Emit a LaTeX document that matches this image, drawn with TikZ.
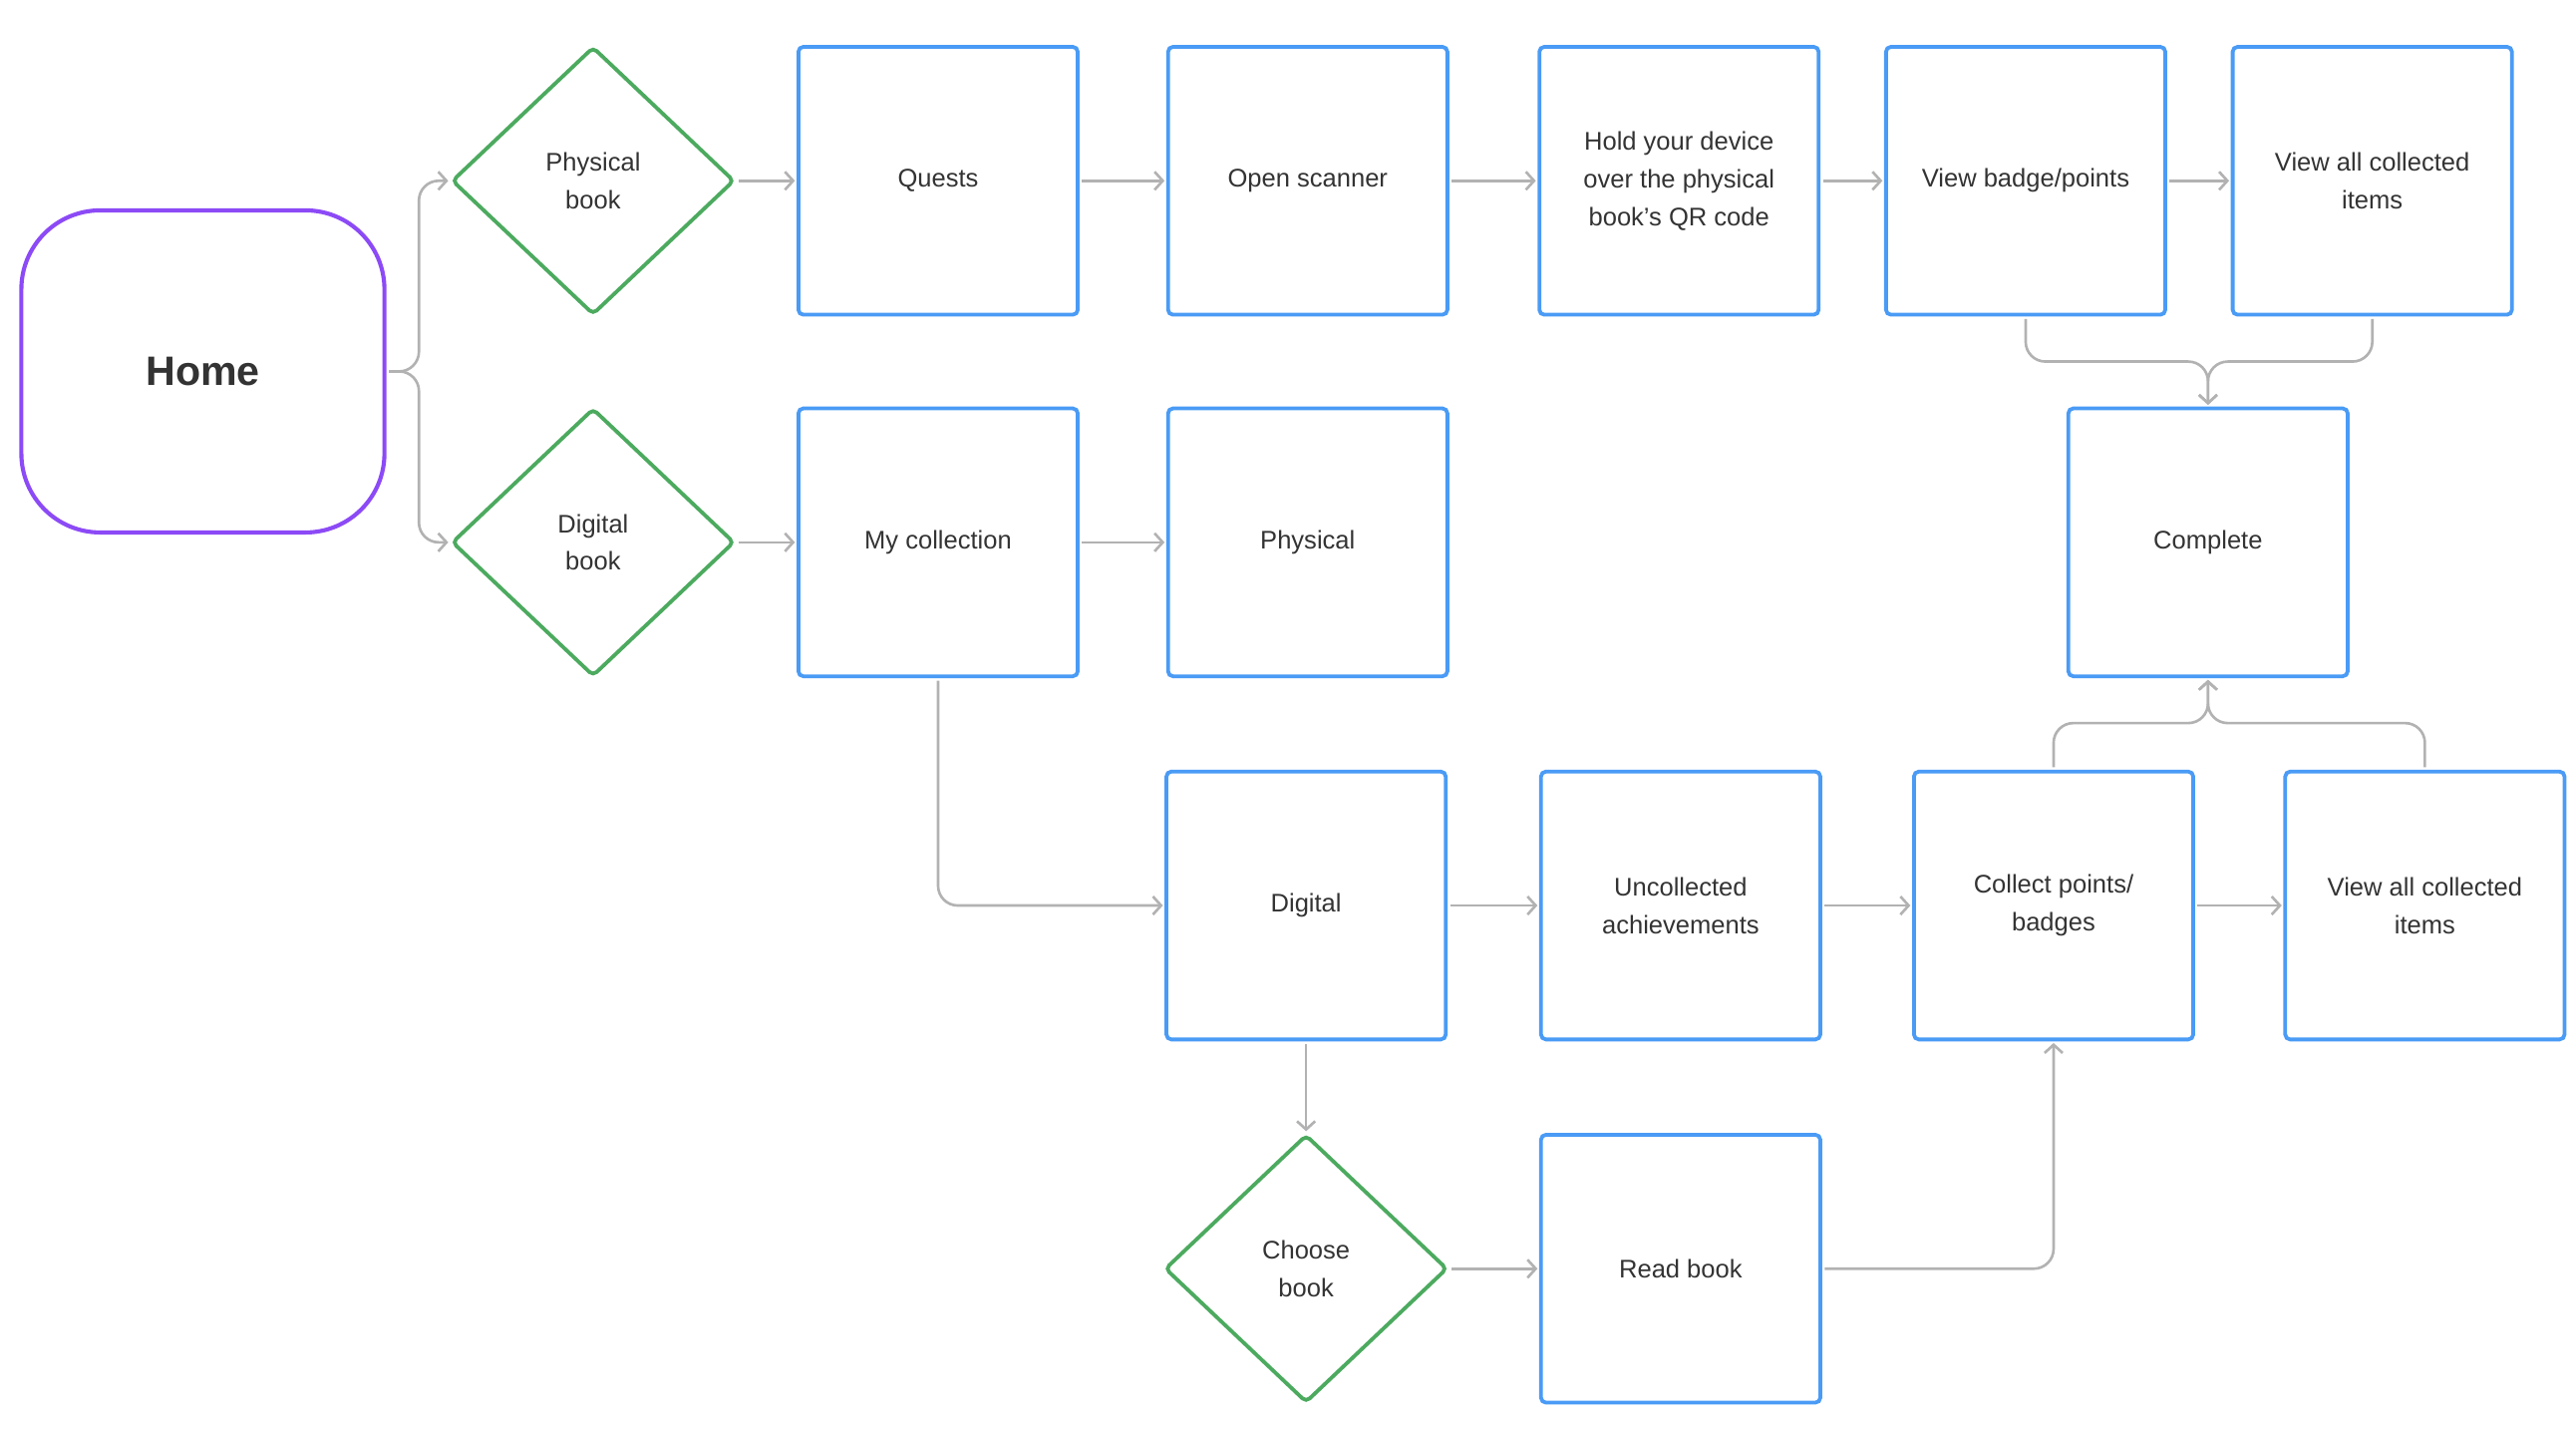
\documentclass[tikz,border=0pt]{standalone}
\usepackage{fontspec}
\setmainfont{Liberation Sans}
\usetikzlibrary{arrows.meta,shapes.geometric}
\definecolor{boxblue}{RGB}{74,155,245}
\definecolor{dgreen}{RGB}{76,170,95}
\definecolor{hpurple}{RGB}{140,74,246}
\definecolor{conngray}{RGB}{178,178,178}
\definecolor{txt}{RGB}{51,51,51}
\tikzset{
  stepbox/.style={draw=boxblue, line width=2.3pt, rounded corners=3pt, rectangle,
    minimum width=170pt, minimum height=163pt, inner sep=0pt, align=center,
    text=txt, font=\fontsize{15.5}{23}\selectfont},
  choice/.style={draw=dgreen, line width=2.3pt, rounded corners=3pt, diamond,
    minimum width=172pt, minimum height=163pt, inner sep=0pt, align=center,
    text=txt, font=\fontsize{15.5}{23}\selectfont},
  homebox/.style={draw=hpurple, line width=2.5pt, rounded corners=48pt, rectangle,
    minimum width=221pt, minimum height=196pt, align=center,
    text=txt, font=\fontsize{25}{30}\selectfont\bfseries},
  conn/.style={draw=conngray, line width=1.6pt, rounded corners=12pt,
    -{Straight Barb[length=5pt,width=11pt,line width=1.6pt]},
    shorten <=1.5pt, shorten >=1pt}
}
\begin{document}
\begin{tikzpicture}[x=1pt,y=-1pt]
\useasboundingbox (0,0) rectangle (1568,871);
% nodes
\node[homebox] (home) at (123.5,226) {Home};
\node[choice] (pb) at (361,110) {Physical\\book};
\node[choice] (db) at (361,330) {Digital\\book};
\node[choice] (cb) at (795,772) {Choose\\book};

\node[stepbox] (q)   at (571,110)  {Quests};
\node[stepbox] (os)  at (796,110)  {Open scanner};
\node[stepbox] (hd)  at (1022,110) {Hold your device\\over the physical\\book’s QR code};
\node[stepbox] (vbp) at (1233,110) {View badge/points};
\node[stepbox] (va1) at (1444,110) {View all collected\\items};

\node[stepbox] (mc)  at (571,330)  {My collection};
\node[stepbox] (ph)  at (796,330)  {Physical};
\node[stepbox] (cmp) at (1344,330) {Complete};

\node[stepbox] (dg)  at (795,551) {Digital};
\node[stepbox] (ua)  at (1023,551) {Uncollected\\achievements};
\node[stepbox] (cp)  at (1250,551) {Collect points/\\badges};
\node[stepbox] (va2) at (1476,551) {View all collected\\items};

\node[stepbox] (rb)  at (1023,772) {Read book};

\coordinate (j1) at (1344,220);
\coordinate (j2) at (1344,440);

% connectors
\draw[conn] (home.east) -- (255,226) |- (pb.west);
\draw[conn] (home.east) -- (255,226) |- (db.west);
\draw[conn] (pb.east) -- (q.west);
\draw[conn] (q.east) -- (os.west);
\draw[conn] (os.east) -- (hd.west);
\draw[conn] (hd.east) -- (vbp.west);
\draw[conn] (vbp.east) -- (va1.west);
\draw[conn] (db.east) -- (mc.west);
\draw[conn] (mc.east) -- (ph.west);
\draw[conn] (mc.south) |- (dg.west);
\draw[conn] (dg.east) -- (ua.west);
\draw[conn] (ua.east) -- (cp.west);
\draw[conn] (cp.east) -- (va2.west);
\draw[conn] (dg.south) -- (cb.north);
\draw[conn] (cb.east) -- (rb.west);
\draw[conn] (rb.east) -| (cp.south);
\draw[conn] (vbp.south) |- (j1) -- (cmp.north);
\draw[conn] (va1.south) |- (j1) -- (cmp.north);
\draw[conn] (cp.north) |- (j2) -- (cmp.south);
\draw[conn] (va2.north) |- (j2) -- (cmp.south);
\end{tikzpicture}
\end{document}
